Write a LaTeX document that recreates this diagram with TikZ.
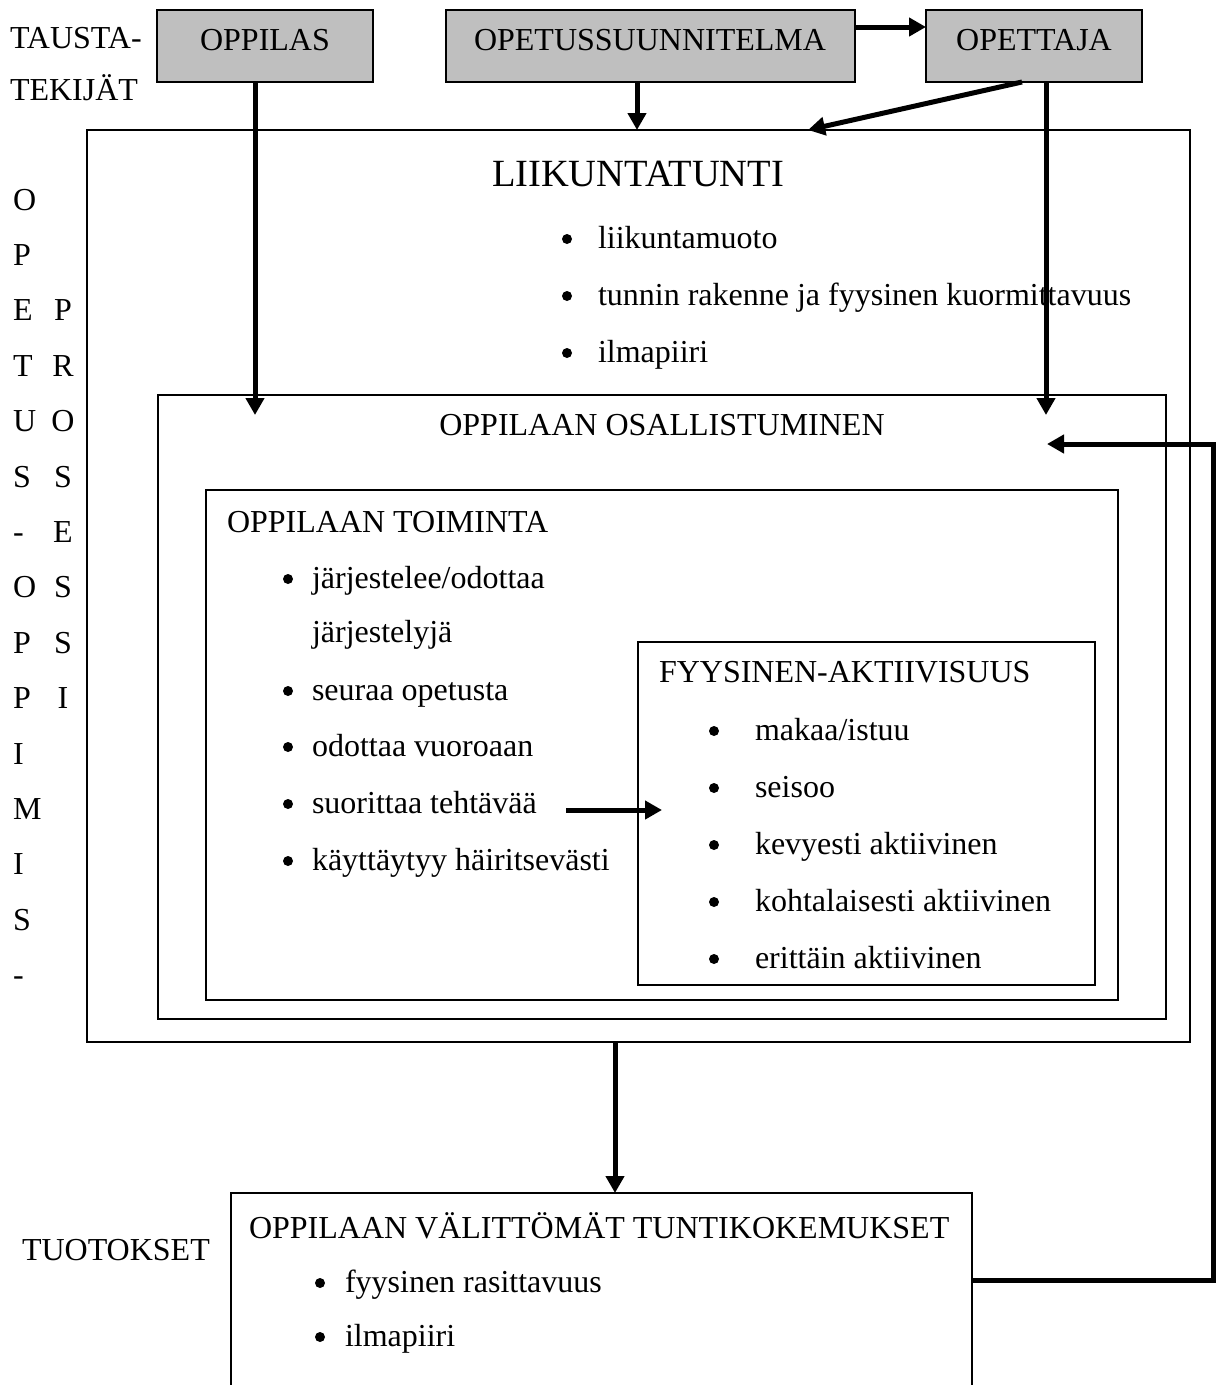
\documentclass[tikz,border=0pt]{standalone}
\usepackage{fontspec}
\setmainfont{Liberation Serif}
\usetikzlibrary{arrows.meta}
\begin{document}
\begin{tikzpicture}[x=1pt,y=-1pt,
  every node/.style={font=\fontsize{32}{38}\selectfont, inner sep=0pt, outer sep=0pt},
  gbox/.style={draw, line width=1.8pt, fill=black!25, anchor=north west},
  wbox/.style={draw, line width=1.8pt, anchor=north west},
  txt/.style={anchor=base west},
  ctxt/.style={anchor=base},
  bul/.style={circle, fill=black, minimum size=10pt},
  tarrow/.style={line width=5pt, -{Triangle[length=17pt,width=18pt]}},
]
\clip (0,0) rectangle (1216,1385);
\fill[white] (0,0) rectangle (1216,1385);

% background factor boxes
\node[gbox, minimum width=216pt, minimum height=72pt] (oppilas) at (157,10) {};
\node[gbox, minimum width=409pt, minimum height=72pt] (ops) at (446,10) {};
\node[gbox, minimum width=216pt, minimum height=72pt] (opettaja) at (926,10) {};
\node[ctxt] (toppilas) at (265,50) {OPPILAS};
\node[ctxt] (tops) at (650,50) {OPETUSSUUNNITELMA};
\node[ctxt] (topettaja) at (1034,50) {OPETTAJA};

\node[txt] (tausta) at (10,48) {TAUSTA-};
\node[txt] (tekijat) at (10,100) {TEKIJÄT};

% nested boxes
\node[wbox, minimum width=1103pt, minimum height=912pt] (outer) at (87,130) {};
\node[wbox, minimum width=1008pt, minimum height=624pt] (osall) at (158,395) {};
\node[wbox, minimum width=912pt, minimum height=510pt] (toim) at (206,490) {};
\node[wbox, minimum width=457pt, minimum height=343pt] (fyys) at (638,642) {};
\node[wbox, minimum width=741pt, minimum height=300pt] (bottom) at (231,1193) {};

% LIIKUNTATUNTI
\node[ctxt, font=\fontsize{38.5}{44}\selectfont] (tliik) at (638,186) {LIIKUNTATUNTI};
\node[bul] (b1) at (567,239) {};
\node[txt] (l1) at (598,248) {liikuntamuoto};
\node[bul] (b2) at (567,296) {};
\node[txt] (l2) at (598,305) {tunnin rakenne ja fyysinen kuormittavuus};
\node[bul] (b3) at (567,353) {};
\node[txt] (l3) at (598,362) {ilmapiiri};

% OSALLISTUMINEN
\node[ctxt] (tosall) at (662,435) {OPPILAAN OSALLISTUMINEN};

% TOIMINTA
\node[txt] (ttoim) at (227,532) {OPPILAAN TOIMINTA};
\node[bul] (c1) at (288,579) {};
\node[txt] (t1) at (312,588) {järjestelee/odottaa};
\node[txt] (t1b) at (312,642) {järjestelyjä};
\node[bul] (c2) at (288,691) {};
\node[txt] (t2) at (312,700) {seuraa opetusta};
\node[bul] (c3) at (288,747) {};
\node[txt] (t3) at (312,756) {odottaa vuoroaan};
\node[bul] (c4) at (288,804) {};
\node[txt] (t4) at (312,813) {suorittaa tehtävää};
\node[bul] (c5) at (288,861) {};
\node[txt] (t5) at (312,870) {käyttäytyy häiritsevästi};

% FYYSINEN
\node[txt] (tfyys) at (659,682) {FYYSINEN-AKTIIVISUUS};
\node[bul] (d1) at (714,731) {};
\node[txt] (f1) at (755,740) {makaa/istuu};
\node[bul] (d2) at (714,788) {};
\node[txt] (f2) at (755,797) {seisoo};
\node[bul] (d3) at (714,845) {};
\node[txt] (f3) at (755,854) {kevyesti aktiivinen};
\node[bul] (d4) at (714,902) {};
\node[txt] (f4) at (755,911) {kohtalaisesti aktiivinen};
\node[bul] (d5) at (714,959) {};
\node[txt] (f5) at (755,968) {erittäin aktiivinen};

% bottom
\node[txt] (tbot) at (249,1238) {OPPILAAN VÄLITTÖMÄT TUNTIKOKEMUKSET};
\node[bul] (e1) at (320,1283) {};
\node[txt] (g1) at (345,1292) {fyysinen rasittavuus};
\node[bul] (e2) at (320,1337) {};
\node[txt] (g2) at (345,1346) {ilmapiiri};
\node[txt] (tuot) at (22,1260) {TUOTOKSET};

% left vertical letters
\foreach \l [count=\i from 0] in {O,P,E,T,U,S,-,O,P,P,I,M,I,S,-}
  \node[txt] (v\i) at (13,{210+55.4*\i}) {\l};
\foreach \l [count=\i from 2] in {P,R,O,S,E,S,S,I}
  \node[ctxt] (w\i) at (63,{210+55.4*\i}) {\l};

% connector coordinates
\coordinate (a1) at (255,415);
\coordinate (a2) at (637,130);
\coordinate (a3) at (1046,415);
\coordinate (h1) at (0,27);
\coordinate (dg1) at (1022,82);
\coordinate (dg2) at (808,130);
\coordinate (s1) at (566,810);
\coordinate (s2) at (662,810);
\coordinate (m1) at (615,1042);
\coordinate (fb1) at (0,1280);
\coordinate (fb2) at (1213,0);
\coordinate (fb3) at (1047,444);

\draw[tarrow] (oppilas.south -| a1) -- (a1);
\draw[tarrow] (ops.south -| a2) -- (a2);
\draw[tarrow] (opettaja.south -| a3) -- (a3);
\draw[tarrow] (ops.east |- h1) -- (opettaja.west |- h1);
\draw[tarrow] (dg1) -- (dg2);
\draw[tarrow] (s1) -- (s2);
\draw[tarrow] (m1) -- (bottom.north -| m1);
\draw[tarrow] (bottom.east |- fb1) -- (fb2 |- fb1) -- (fb2 |- fb3) -- (fb3);
\end{tikzpicture}
\end{document}
